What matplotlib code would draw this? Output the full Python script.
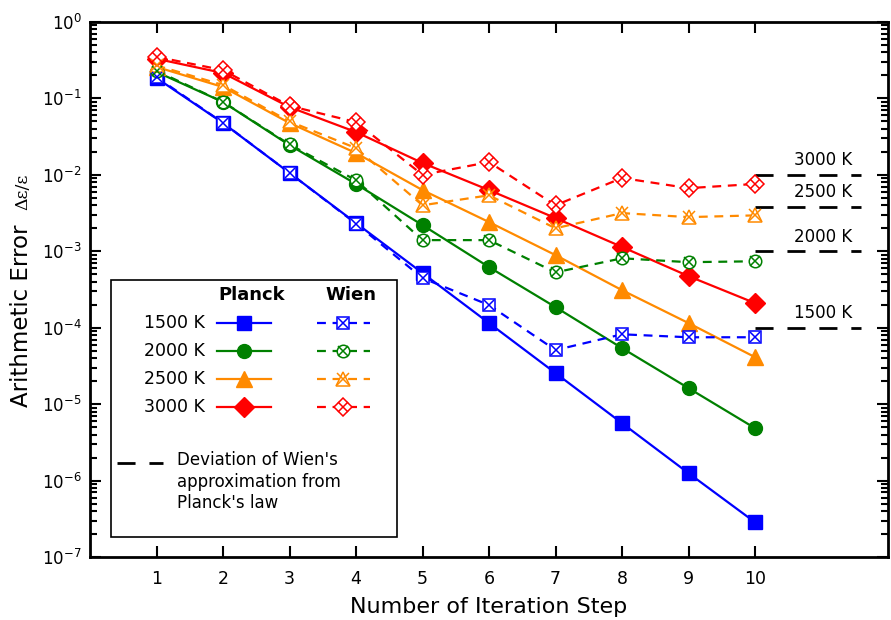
import matplotlib
matplotlib.use("Agg")
import matplotlib.pyplot as plt
from matplotlib.lines import Line2D
from matplotlib.patches import Rectangle
from matplotlib.ticker import LogLocator, NullFormatter, FixedLocator

# data
steps = [1, 2, 3, 4, 5, 6, 7, 8, 9, 10]
temps = ["1500 K", "2000 K", "2500 K", "3000 K"]

planck_1500 = [0.185, 0.0477, 0.0106, 2.34e-3, 5.19e-4, 1.15e-4, 2.55e-5, 5.64e-6, 1.25e-6, 2.85e-7]
planck_2000 = [0.222, 0.0897, 0.0245, 7.59e-3, 2.20e-3, 6.21e-4, 1.86e-4, 5.41e-5, 1.62e-5, 4.85e-6]
planck_2500 = [0.258, 0.141, 0.0477, 0.0193, 6.32e-3, 2.41e-3, 8.91e-4, 3.10e-4, 1.15e-4, 4.12e-5]
planck_3000 = [0.33, 0.215, 0.077, 0.0363, 0.0143, 6.32e-3, 2.72e-3, 1.14e-3, 4.73e-4, 2.10e-4]

wien_1500 = [0.19, 0.048, 0.0106, 2.3e-3, 4.46e-4, 1.98e-4, 5.1e-5, 8.2e-5, 7.5e-5, 7.5e-5]
wien_2000 = [0.23, 0.09, 0.025, 8.5e-3, 1.40e-3, 1.40e-3, 5.3e-4, 8.1e-4, 7.2e-4, 7.4e-4]
wien_2500 = [0.27, 0.15, 0.05, 0.0224, 4.0e-3, 5.4e-3, 2.0e-3, 3.16e-3, 2.8e-3, 2.95e-3]
wien_3000 = [0.35, 0.235, 0.08, 0.049, 0.01, 0.0147, 4.0e-3, 9.1e-3, 6.7e-3, 7.6e-3]

# deviation of wien's approximation from planck's law
deviation = [1e-4, 1e-3, 3.8e-3, 1e-2]

colors = ["#0000ff", "#008000", "#ff8a00", "#ff0000"]
planck_markers = ["s", "o", "^", "D"]
wien_markers = ["s", "o", "^", "D"]

planck = [planck_1500, planck_2000, planck_2500, planck_3000]
wien = [wien_1500, wien_2000, wien_2500, wien_3000]

plt.rcParams["font.family"] = ["DejaVu Sans"]

fig = plt.figure(figsize=(8.91, 6.2), dpi=100)
ax = fig.add_axes([90/891, 63/620, 798/891, 535/620])

msize = [9.5, 10, 11, 10]
for i in range(4):
    ax.plot(steps, planck[i], color=colors[i], lw=1.6, marker=planck_markers[i],
            ms=msize[i], mec=colors[i], mfc=colors[i], zorder=3)
for i in range(4):
    ax.plot(steps, wien[i], color=colors[i], lw=1.6, dashes=(4, 3),
            marker=wien_markers[i], ms=msize[i] - 1, mfc="white", mec=colors[i], mew=1.1, zorder=4)
    ax.plot(steps, wien[i], ls="none", marker="x", ms=msize[i] - 3, mec=colors[i], mew=1.1, zorder=5)

# deviation lines on the right
for i in range(4):
    ax.plot([10, 11.6], [deviation[i], deviation[i]], color="black", lw=2.0,
            dashes=(6.5, 5), zorder=2)
    ax.annotate(temps[i], (11.02, deviation[i]), xytext=(0, 4), textcoords="offset points",
                ha="center", va="bottom", fontsize=12)

ax.set_yscale("log")
ax.set_xlim(0, 12)
ax.set_ylim(1e-7, 1)
ax.xaxis.set_major_locator(FixedLocator(steps))
ax.yaxis.set_major_locator(LogLocator(base=10, numticks=20))
ax.yaxis.set_minor_locator(LogLocator(base=10, subs=[2, 3, 4, 5, 6, 7, 8, 9], numticks=20))
ax.yaxis.set_minor_formatter(NullFormatter())
ax.tick_params(axis="both", which="both", direction="in", top=True, right=True, width=1.5)
ax.tick_params(axis="x", which="major", length=8, pad=9, labelsize=12.5)
ax.tick_params(axis="y", which="major", length=8, labelsize=12, pad=6)
ax.tick_params(axis="y", which="minor", length=5)
for sp in ax.spines.values():
    sp.set_linewidth(2)

ax.set_xlabel("Number of Iteration Step", fontsize=16, labelpad=7)
fig.text(0.024, 0.49, "Arithmetic Error", rotation=90, fontsize=16.5, ha="center", va="center")
fig.text(0.026, 0.69, "Δε/ε", rotation=90, fontsize=12.5,
         ha="center", va="center", family="DejaVu Serif")

# legend built by hand in axes coordinates
T = ax.transAxes
ax.add_patch(Rectangle((0.0263, 0.0374), 0.3587, 0.4806, transform=T, fill=True,
                       facecolor="white", edgecolor="black", lw=1.2, zorder=6))
ax.text(0.203, 0.490, "Planck", transform=T, ha="center", va="center",
        fontsize=13, fontweight="bold", zorder=7)
ax.text(0.327, 0.490, "Wien", transform=T, ha="center", va="center",
        fontsize=13, fontweight="bold", zorder=7)
row_y = [0.437, 0.385, 0.333, 0.280]
for i in range(4):
    y = row_y[i]
    ax.text(0.144, y, temps[i], transform=T, ha="right", va="center", fontsize=12.5, zorder=7)
    ax.add_line(Line2D([0.159, 0.227], [y, y], transform=T, color=colors[i], lw=1.6, zorder=7))
    ax.add_line(Line2D([0.193], [y], transform=T, color=colors[i], marker=planck_markers[i],
                       ms=msize[i], mfc=colors[i], mec=colors[i], zorder=8))
    ax.add_line(Line2D([0.284, 0.351], [y, y], transform=T, color=colors[i], lw=1.6,
                       dashes=(4, 3), zorder=7))
    ax.add_line(Line2D([0.317], [y], transform=T, color=colors[i], marker=wien_markers[i],
                       ms=msize[i] - 1, mfc="white", mec=colors[i], mew=1.1, zorder=8))
    ax.add_line(Line2D([0.317], [y], transform=T, color=colors[i], marker="x",
                       ms=msize[i] - 3, mec=colors[i], mew=1.1, zorder=9))
ax.add_line(Line2D([0.0338, 0.0915], [0.176, 0.176], transform=T, color="black", lw=2.0,
                   dashes=(6.5, 5), zorder=7))
ax.text(0.109, 0.198, "Deviation of Wien's\napproximation from\nPlanck's law", transform=T,
        ha="left", va="top", fontsize=12, linespacing=1.25, zorder=7)

fig.savefig("out.png", dpi=100)
